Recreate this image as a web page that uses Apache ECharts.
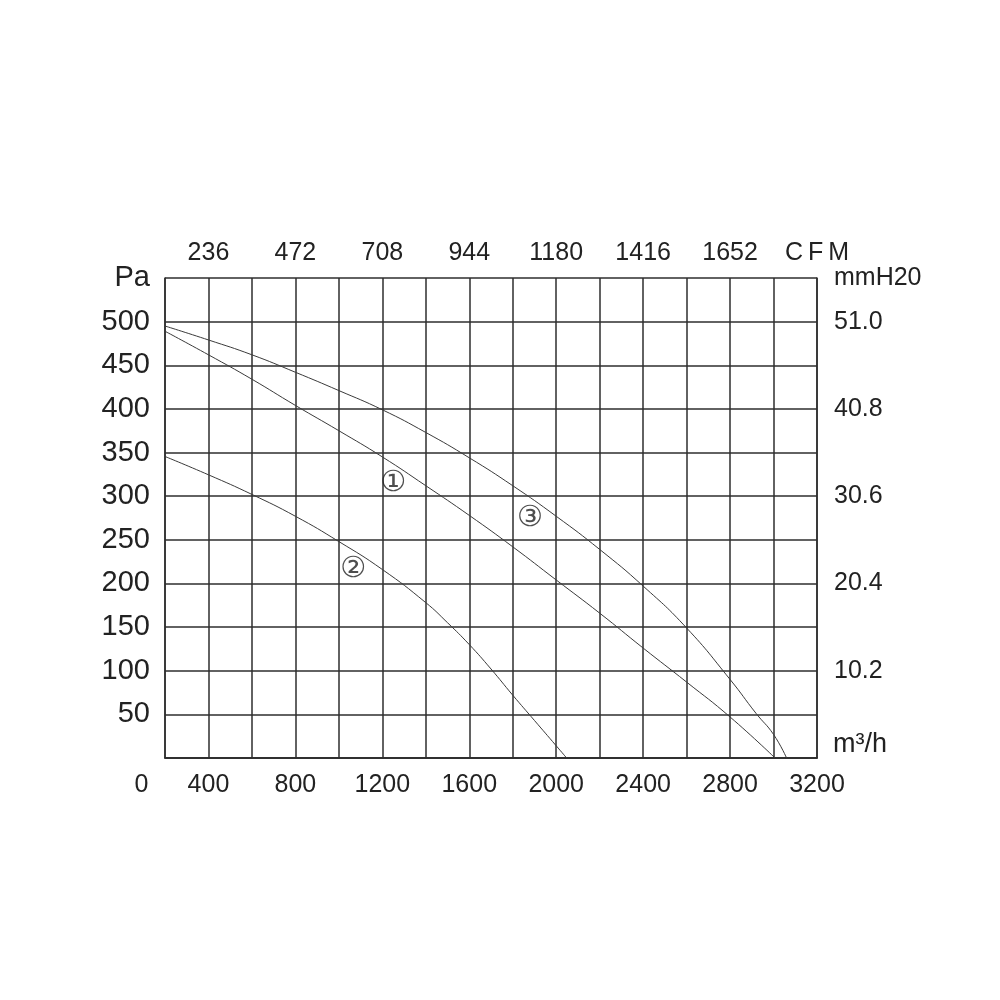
<!DOCTYPE html>
<html>
<head>
<meta charset="utf-8">
<script src="https://cdn.jsdelivr.net/npm/echarts@6/dist/echarts.min.js"></script>
<style>html,body{margin:0;padding:0;background:#fff;}#c{width:1000px;height:1000px;}</style>
</head>
<body>
<div id="c"></div>
<script>
// x axis in m3/h units (gridlines every 200), y in Pa
const xBottomTickValues = [200, 400, 800, 1200, 1600, 2000, 2400, 2800, 3200];
const xBottomTickLabels = ['0', '400', '800', '1200', '1600', '2000', '2400', '2800', '3200'];
const xTopTickValues = [400, 800, 1200, 1600, 2000, 2400, 2800, 3200];
const xTopTickLabels = ['236', '472', '708', '944', '1180', '1416', '1652', 'C\u2009F\u2009M'];
const yLeftTickValues = [50, 100, 150, 200, 250, 300, 350, 400, 450, 500, 550];
const yLeftTickLabels = ['50', '100', '150', '200', '250', '300', '350', '400', '450', '500', 'Pa'];
const yRightTickValues = [100, 200, 300, 400, 500, 550];
const yRightTickLabels = ['10.2', '20.4', '30.6', '40.8', '51.0', 'mmH20'];
const xUnitName = 'm³/h';

const curve1 = [[200,489],[400,462],[600,434],[800,404],[1000,375],[1200,345],[1400,312],[1600,278],[1800,242],[2000,204],[2200,166],[2400,126],[2600,87],[2800,47],[3007,0]];
const curve2 = [[200,345.5],[400,324.5],[600,302],[800,277],[1000,248],[1200,216],[1400,178],[1500,155],[1600,130],[1700,102],[1800,72],[1900,43],[2000,14],[2048,0]];
const curve3 = [[200,495],[400,479],[600,462],[800,442],[1000,421],[1200,399],[1400,373],[1600,344],[1800,312],[2000,277],[2200,239],[2400,197],[2600,149],[2800,90],[2920,51],[3000,27],[3060,0]];
const curveTags = [['①', 1250, 315], ['②', 1066, 215.5], ['③', 1879, 274.5]];

const FONT = '"Liberation Sans", Arial, sans-serif';
const GRID_COLOR = '#2e2e2e';
const lineStyleGrid = { color: GRID_COLOR, width: 1.5 };

function lookup(values, labels) {
  return function (v) {
    const i = values.indexOf(Math.round(v * 1000) / 1000);
    return i >= 0 ? labels[i] : '';
  };
}

const chart = echarts.init(document.getElementById('c'), null, { renderer: 'canvas' });
const bottomFmt = lookup(xBottomTickValues, xBottomTickLabels);
const curveStyle = { color: '#3a3a3a', width: 1 };
chart.setOption({
  backgroundColor: '#ffffff',
  animation: false,
  grid: { left: 165, right: 183, top: 278, bottom: 242, containLabel: false },
  xAxis: [
    {
      type: 'value', position: 'bottom', min: 200, max: 3200, interval: 200,
      axisLine: { show: true, lineStyle: lineStyleGrid },
      axisTick: { show: false },
      splitLine: { show: true, lineStyle: lineStyleGrid },
      axisLabel: {
        margin: 15, fontSize: 25, color: '#222', fontFamily: FONT,
        showMinLabel: true, showMaxLabel: true,
        formatter: function (v) {
          const t = bottomFmt(v);
          if (v === xBottomTickValues[0]) return '{z|' + t + '}';
          return t;
        },
        rich: { z: { fontSize: 25, color: '#222', fontFamily: FONT, padding: [0, 47, 0, 0] } }
      },
      name: xUnitName, nameLocation: 'end', nameGap: 16,
      nameTextStyle: { fontSize: 27, color: '#222', fontFamily: FONT, verticalAlign: 'bottom', align: 'left' }
    },
    {
      type: 'value', position: 'top', min: 200, max: 3200, interval: 200,
      axisLine: { show: true, lineStyle: lineStyleGrid },
      axisTick: { show: false },
      splitLine: { show: false },
      axisLabel: {
        margin: 12, fontSize: 25, color: '#222', fontFamily: FONT,
        showMinLabel: true, showMaxLabel: true,
        formatter: lookup(xTopTickValues, xTopTickLabels)
      }
    }
  ],
  yAxis: [
    {
      type: 'value', position: 'left', min: 0, max: 550, interval: 50,
      axisLine: { show: true, lineStyle: lineStyleGrid },
      axisTick: { show: false },
      splitLine: { show: true, lineStyle: lineStyleGrid },
      axisLabel: {
        margin: 15, fontSize: 29, color: '#222', fontFamily: FONT,
        showMinLabel: true, showMaxLabel: true,
        formatter: lookup(yLeftTickValues, yLeftTickLabels)
      }
    },
    {
      type: 'value', position: 'right', min: 0, max: 550, interval: 50,
      axisLine: { show: true, lineStyle: lineStyleGrid },
      axisTick: { show: false },
      splitLine: { show: false },
      axisLabel: {
        margin: 17, fontSize: 25, color: '#222', fontFamily: FONT,
        showMinLabel: true, showMaxLabel: true,
        formatter: lookup(yRightTickValues, yRightTickLabels)
      }
    }
  ],
  series: [
    { name: '1', type: 'line', data: curve1, smooth: 0.5, symbol: 'none', lineStyle: curveStyle },
    { name: '2', type: 'line', data: curve2, smooth: 0.5, symbol: 'none', lineStyle: curveStyle },
    { name: '3', type: 'line', data: curve3, smooth: 0.5, symbol: 'none', lineStyle: curveStyle },
    {
      name: 'tags', type: 'scatter', symbol: 'circle', symbolSize: 2,
      itemStyle: { color: 'rgba(0,0,0,0)' },
      data: curveTags.map(function (d) { return { value: [d[1], d[2]], name: d[0] }; }),
      label: {
        show: true, position: 'inside', formatter: '{b}',
        fontSize: 29, color: '#222', fontFamily: '"DejaVu Sans", "Noto Sans CJK SC", sans-serif'
      },
      silent: true, z: 5
    }
  ]
});
</script>
</body>
</html>
